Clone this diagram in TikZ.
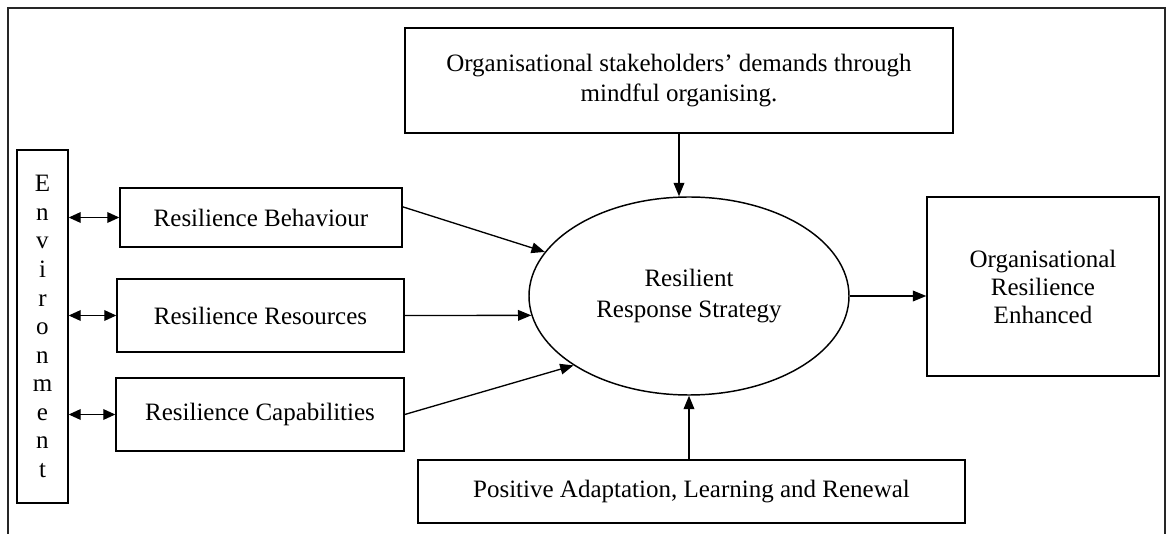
\documentclass[tikz,border=0pt]{standalone}
\usepackage{fontspec}
\setmainfont{Liberation Serif}
\usetikzlibrary{shapes.geometric,arrows.meta}
\newlength\pxu
\setlength\pxu{0.75pt}
\begin{document}
\begin{tikzpicture}[x=0.75pt,y=-0.75pt,
  box/.style={draw,line width=1.1pt,rectangle,inner sep=0pt,align=center,
    font=\fontsize{18.75}{22}\selectfont},
  oval/.style={draw,line width=1.1pt,ellipse,inner sep=0pt,align=center,
    font=\fontsize{18.75}{23}\selectfont},
  frameline/.style={line width=1.4pt,draw=black!85},
  link/.style={line width=1pt,-{Triangle[length=10pt,width=8pt]}},
  both/.style={line width=1pt,{Triangle[length=9pt,width=8pt]}-{Triangle[length=9pt,width=8pt]}}]
\useasboundingbox (0,0) rectangle (1168,534);

% outer frame, open at the bottom
\coordinate (fbl) at (8,534);
\coordinate (ftl) at (8,8);
\coordinate (ftr) at (1165,8);
\coordinate (fbr) at (1165,534);
\draw[frameline] (fbl) -- (ftl) -- (ftr) -- (fbr);

% environment column
\node[box,minimum width=51\pxu,minimum height=353\pxu,
  font=\fontsize{18.75}{21.4}\selectfont] (env) at (42.5,326.5)
  {E\\ n\\ v\\ i\\ r\\ o\\ n\\ m\\ e\\ n\\ t};

% resilience factors
\node[box,minimum width=282\pxu,minimum height=59\pxu] (beh) at (261,217.5) {Resilience Behaviour};
\node[box,minimum width=287\pxu,minimum height=73\pxu] (res) at (260.5,315.5) {Resilience Resources};
\node[box,minimum width=288\pxu,minimum height=73\pxu] (cap) at (260,414.5) {Resilience Capabilities};

% central strategy
\node[oval,minimum width=320\pxu,minimum height=198\pxu] (ell) at (689,296) {Resilient\\ Response Strategy};

% surrounding boxes
\node[box,minimum width=548\pxu,minimum height=105\pxu] (top) at (679,80.5)
  {Organisational stakeholders’ demands through\\ mindful organising.};
\node[box,minimum width=232\pxu,minimum height=179\pxu,
  font=\fontsize{18.75}{21}\selectfont] (out) at (1043,286.5)
  {Organisational\\ Resilience\\ Enhanced};
\node[box,minimum width=547\pxu,minimum height=63\pxu] (bot) at (691.5,491.5)
  {Positive Adaptation, Learning and Renewal};

% environment links
\draw[both] (env.east |- beh.west) -- (beh.west);
\draw[both] (env.east |- res.west) -- (res.west);
\draw[both] (env.east |- cap.west) -- (cap.west);

% factors into strategy
\draw[link] ([yshift=8pt]beh.east) -- (ell.163);
\draw[link] (res.east) -- (ell.187);
\draw[link] (cap.east) -- (ell.211);

% demands and adaptation into strategy
\draw[link] (top.south) -- (top.south |- ell.north);
\draw[link] (ell.south |- bot.north) -- (ell.south);

% strategy to outcome
\draw[link] (ell.east) -- (ell.east -| out.west);
\end{tikzpicture}
\end{document}
